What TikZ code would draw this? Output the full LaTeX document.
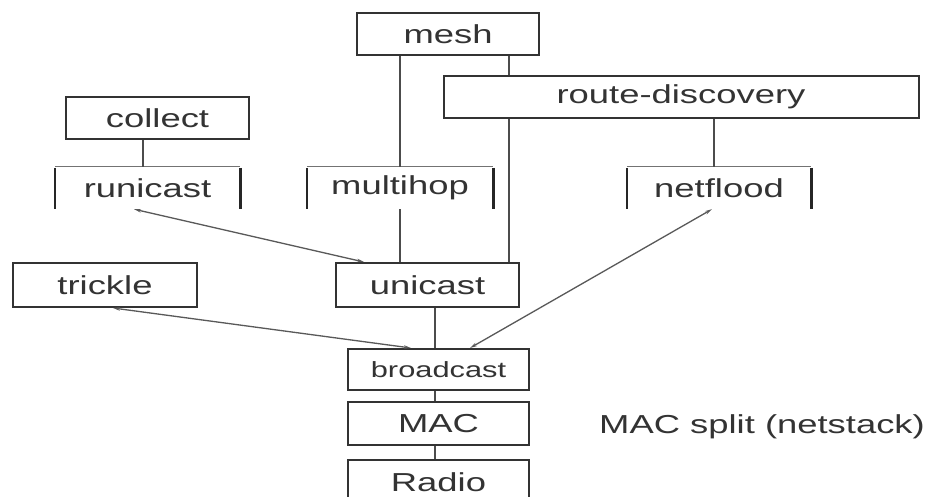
\documentclass[tikz,border=0pt]{standalone}
\usepackage{fontspec}
\usetikzlibrary{arrows.meta}
\setmainfont[FakeStretch=1.4]{Liberation Sans}
\begin{document}
\begin{tikzpicture}[x=1pt,y=-1pt,
  box/.style={draw=black!80, line width=2pt, fill=white, inner sep=0pt, text=black!80,
    font=\fontsize{26}{30}\selectfont},
  openbox/.style={inner sep=0pt, text=black!80, font=\fontsize{26}{30}\selectfont},
  small/.style={font=\fontsize{22}{26}\selectfont},
  link/.style={draw=black!70, line width=1.4pt},
  diag/.style={draw=black!65, line width=1.3pt,
    {Stealth[length=7pt,width=3.5pt]}-{Stealth[length=7pt,width=3.5pt]}}]
\useasboundingbox (0,0) rectangle (934,497);
\fill[white] (0,0) rectangle (934,497);
% nodes
\node[box, minimum width=182pt, minimum height=42pt] (mesh) at (448,34) {mesh};
\node[box, minimum width=475pt, minimum height=42pt] (route) at (681,97) {route-discovery};
\node[box, minimum width=183pt, minimum height=42pt] (collect) at (157.5,118) {collect};
\node[openbox, minimum width=185pt, minimum height=42pt] (runicast) at (147.5,188) {runicast};
\node[openbox, minimum width=186pt, minimum height=42pt] (multihop) at (400,188) {multihop};
\node[openbox, minimum width=184pt, minimum height=42pt] (netflood) at (719,188) {netflood};
\node[box, minimum width=184pt, minimum height=44pt] (trickle) at (105,285) {trickle};
\node[box, minimum width=183pt, minimum height=44pt] (unicast) at (427.5,285) {unicast};
\node[box, small, minimum width=181pt, minimum height=41pt] (broadcast) at (438.5,369.5) {broadcast};
\node[box, minimum width=181pt, minimum height=43pt] (mac) at (438.5,423.5) {MAC};
\node[box, minimum width=181pt, minimum height=45pt] (radio) at (438.5,482.5) {Radio};
\node[inner sep=0pt, text=black!80, font=\fontsize{26}{30}\selectfont, anchor=west] (split) at (599,427) {MAC split (netstack)};
% open boxes: thin top, thick sides
\foreach \n in {runicast,multihop,netflood}{
  \draw[black!55, line width=1.2pt] (\n.north west) -- (\n.north east);
  \draw[black!85, line width=2.6pt] ([yshift=-1pt]\n.north west) -- (\n.south west);
  \draw[black!85, line width=2.6pt] ([yshift=-1pt]\n.north east) -- (\n.south east);
}
% connectors
\draw[link] (mesh.south -| multihop.north) -- (multihop.north);
\draw[link] (multihop.south) -- (multihop.south |- unicast.north);
\draw[link] (mesh.south -| 509,0) -- (route.north -| 509,0);
\draw[link] (route.south -| 509,0) -- (unicast.north -| 509,0);
\draw[link] (route.south -| 714,0) -- (netflood.north -| 714,0);
\draw[link] (collect.south -| 143,0) -- (runicast.north -| 143,0);
\draw[diag] (runicast.south -| 134,0) -- (unicast.north -| 364,0);
\draw[diag] (trickle.south -| 113,0) -- (broadcast.north -| 411,0);
\draw[diag] (netflood.south -| 712,0) -- (broadcast.north -| 470,0);
\draw[link] (unicast.south -| 435,0) -- (broadcast.north -| 435,0);
\draw[link] (broadcast.south -| 435,0) -- (mac.north -| 435,0);
\draw[link] (mac.south -| 435,0) -- (radio.north -| 435,0);
\end{tikzpicture}
\end{document}
